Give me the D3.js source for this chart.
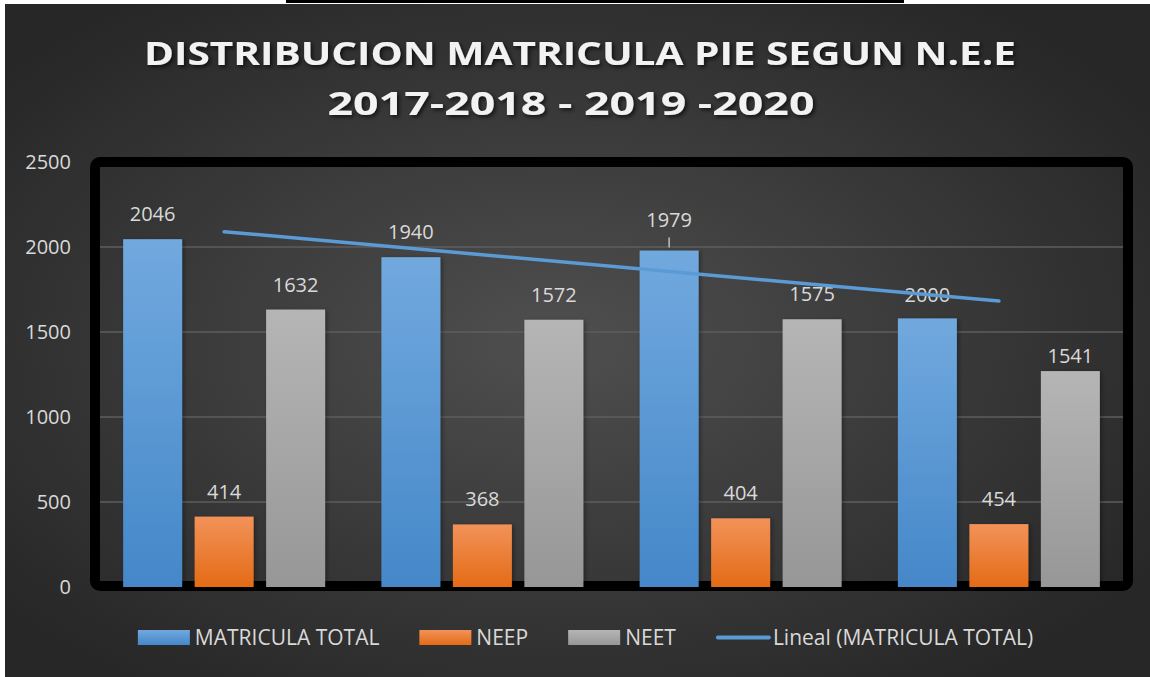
<!DOCTYPE html>
<html>
<head>
<meta charset="utf-8">
<script src="https://cdn.jsdelivr.net/npm/d3@7"></script>
<style>
  body { margin: 0; background: #ffffff; }
  text { font-family: "Open Sans", sans-serif; }
</style>
</head>
<body>
<div id="grafico"></div>
<script>
// Datos del grafico
var periodos = ["2017", "2018", "2019", "2020"];
var series = ["MATRICULA TOTAL", "NEEP", "NEET"];
var matriculaTotal = [2046, 1940, 1979, 1580];
var neep = [414, 368, 404, 370];
var neet = [1632, 1572, 1575, 1270];
// etiquetas de datos tal como aparecen escritas en el grafico
var etiquetasTotal = ["2046", "1940", "1979", "2000"];
var etiquetasNeep = ["414", "368", "404", "454"];
var etiquetasNeet = ["1632", "1572", "1575", "1541"];
var ticksY = [0, 500, 1000, 1500, 2000, 2500];
var titulo = ["DISTRIBUCION MATRICULA PIE SEGUN N.E.E", "2017-2018 - 2019 -2020"];
var leyendaTendencia = "Lineal (MATRICULA TOTAL)";

var width = 1150, height = 677;
var colores = {
  "MATRICULA TOTAL": ["#71a9de", "#4587c9"],
  "NEEP": ["#f29259", "#e46b16"],
  "NEET": ["#b5b5b5", "#979797"]
};

var svg = d3.select("#grafico").append("svg")
  .attr("width", width)
  .attr("height", height);

var defs = svg.append("defs");

// fondo radial oscuro
var fondo = defs.append("radialGradient").attr("id", "fondo")
  .attr("cx", "0.48").attr("cy", "0.5").attr("r", "0.62");
fondo.append("stop").attr("offset", "0").attr("stop-color", "#4f4f4f");
fondo.append("stop").attr("offset", "1").attr("stop-color", "#272727");

series.forEach(function(s, i) {
  var g = defs.append("linearGradient").attr("id", "grad" + i)
    .attr("x1", 0).attr("y1", 0).attr("x2", 0).attr("y2", 1);
  g.append("stop").attr("offset", "0").attr("stop-color", colores[s][0]);
  g.append("stop").attr("offset", "1").attr("stop-color", colores[s][1]);
});

var sombraTitulo = defs.append("filter").attr("id", "sombraTitulo")
  .attr("x", "-10%").attr("y", "-30%").attr("width", "120%").attr("height", "160%");
sombraTitulo.append("feDropShadow").attr("dx", 2).attr("dy", 2)
  .attr("stdDeviation", 2).attr("flood-color", "#000").attr("flood-opacity", 0.7);

var sombraBarra = defs.append("filter").attr("id", "sombraBarra")
  .attr("x", "-20%").attr("y", "-10%").attr("width", "140%").attr("height", "120%");
sombraBarra.append("feDropShadow").attr("dx", 2).attr("dy", 1)
  .attr("stdDeviation", 2).attr("flood-color", "#000").attr("flood-opacity", 0.35);

// fondo y linea negra superior
svg.append("rect").attr("x", 5).attr("y", 4).attr("width", width - 5).attr("height", height - 4)
  .attr("fill", "url(#fondo)");
svg.append("rect").attr("x", 286).attr("y", 0).attr("width", 618).attr("height", 3).attr("fill", "#000");

// Titulo
var anchosTitulo = [872, 487];
var centrosTitulo = [580, 571];
var basesTitulo = [65, 115];
titulo.forEach(function(t, i) {
  svg.append("text")
    .attr("x", centrosTitulo[i])
    .attr("y", basesTitulo[i])
    .attr("text-anchor", "middle")
    .attr("textLength", anchosTitulo[i])
    .attr("lengthAdjust", "spacingAndGlyphs")
    .attr("font-size", 33)
    .attr("font-weight", "bold")
    .attr("fill", "#f2f2f2")
    .attr("filter", "url(#sombraTitulo)")
    .text(t);
});

// Escalas
var y = d3.scaleLinear().domain([0, 2500]).range([587, 162]);
var x0 = d3.scaleBand().domain(periodos).range([95, 1128])
  .paddingInner(0.218).paddingOuter(0.109);
var x1 = d3.scaleBand().domain(series).range([0, x0.bandwidth()]).paddingInner(0.175);

// lineas de division
svg.append("g").selectAll("line")
  .data(ticksY.filter(function(d) { return d > 0 && d < 2500; }))
  .enter().append("line")
  .attr("x1", 100).attr("x2", 1123)
  .attr("y1", function(d) { return y(d); })
  .attr("y2", function(d) { return y(d); })
  .attr("stroke", "#5e5e5e")
  .attr("stroke-width", 1.5);

// marco negro del area de trazado
svg.append("rect")
  .attr("x", 95).attr("y", y(2500))
  .attr("width", 1033).attr("height", y(0) - y(2500) - 1)
  .attr("rx", 5)
  .attr("fill", "none")
  .attr("stroke", "#000")
  .attr("stroke-width", 10);

// eje Y
var ejeY = svg.append("g")
  .attr("transform", "translate(75,0)")
  .call(d3.axisLeft(y).tickValues(ticksY).tickFormat(d3.format("d")).tickSize(0).tickPadding(4));
ejeY.select(".domain").remove();
ejeY.selectAll("text")
  .attr("fill", "#d9d9d9")
  .attr("font-size", 20)
  .style("font-family", "'Open Sans', sans-serif");

// Barras
var valores = [matriculaTotal, neep, neet];
var etiquetas = [etiquetasTotal, etiquetasNeep, etiquetasNeet];
var filas = [];
periodos.forEach(function(p, i) {
  series.forEach(function(s, j) {
    filas.push({ periodo: p, serie: s, idx: j, i: i, valor: valores[j][i], etiqueta: etiquetas[j][i] });
  });
});

svg.append("g").selectAll("rect")
  .data(filas)
  .enter().append("rect")
  .attr("x", function(d) { return x0(d.periodo) + x1(d.serie); })
  .attr("y", function(d) { return y(d.valor); })
  .attr("width", x1.bandwidth())
  .attr("height", function(d) { return y(0) - y(d.valor); })
  .attr("fill", function(d) { return "url(#grad" + d.idx + ")"; })
  .attr("filter", "url(#sombraBarra)");

// separacion de etiquetas (algunas movidas a mano en el original)
function separacion(d) {
  if (d.idx === 0 && d.i === 2) return 24;
  if (d.idx === 2 && d.i === 3) return 8;
  if (d.idx === 0 && d.i === 3) return 16;
  return 18;
}

svg.append("g").selectAll("text")
  .data(filas)
  .enter().append("text")
  .attr("x", function(d) { return x0(d.periodo) + x1(d.serie) + x1.bandwidth() / 2; })
  .attr("y", function(d) { return y(d.valor) - separacion(d); })
  .attr("text-anchor", "middle")
  .attr("font-size", 20)
  .attr("fill", "#d9d9d9")
  .text(function(d) { return d.etiqueta; });

// linea guia de la etiqueta 1979
var guia = filas.filter(function(d) { return d.idx === 0 && d.i === 2; })[0];
var guiaX = x0(guia.periodo) + x1(guia.serie) + x1.bandwidth() / 2;
svg.append("line")
  .attr("x1", guiaX).attr("x2", guiaX)
  .attr("y1", y(guia.valor) - 3).attr("y2", y(guia.valor) - 13)
  .attr("stroke", "#bfbfbf").attr("stroke-width", 1.5);

// Linea de tendencia lineal (minimos cuadrados)
var n = matriculaTotal.length;
var mediaX = d3.mean(d3.range(n));
var mediaY = d3.mean(matriculaTotal);
var num = d3.sum(matriculaTotal, function(v, k) { return (k - mediaX) * (v - mediaY); });
var den = d3.sum(d3.range(n), function(k) { return (k - mediaX) * (k - mediaX); });
var pendiente = num / den;
var intercepto = mediaY - pendiente * mediaX;
var tendencia = [0, n - 1].map(function(k) {
  return [x0(periodos[k]) + x0.bandwidth() / 2, y(intercepto + pendiente * k)];
});
svg.append("path")
  .attr("d", d3.line()(tendencia))
  .attr("stroke", "#5b9bd5")
  .attr("stroke-width", 3.5)
  .attr("stroke-linecap", "round")
  .attr("fill", "none");

// Leyenda
var leyenda = svg.append("g");
var itemsLeyenda = series.concat([leyendaTendencia]);
var cursor = 0;
itemsLeyenda.forEach(function(nombre, j) {
  var item = leyenda.append("g").attr("transform", "translate(" + cursor + ",0)");
  if (j < 3) {
    item.append("rect").attr("x", 0).attr("y", 630).attr("width", 52).attr("height", 15)
      .attr("fill", "url(#grad" + j + ")");
  } else {
    item.append("line").attr("x1", 2).attr("x2", 53).attr("y1", 637.5).attr("y2", 637.5)
      .attr("stroke", "#5b9bd5").attr("stroke-width", 4).attr("stroke-linecap", "round");
  }
  var txt = item.append("text")
    .attr("x", 57).attr("y", 645)
    .attr("font-size", 21)
    .attr("fill", "#d9d9d9")
    .text(nombre);
  cursor += 57 + txt.node().getComputedTextLength() + 40;
});
var anchoLeyenda = cursor - 40;
leyenda.attr("transform", "translate(" + (585.5 - anchoLeyenda / 2) + ",0)");
</script>
</body>
</html>
